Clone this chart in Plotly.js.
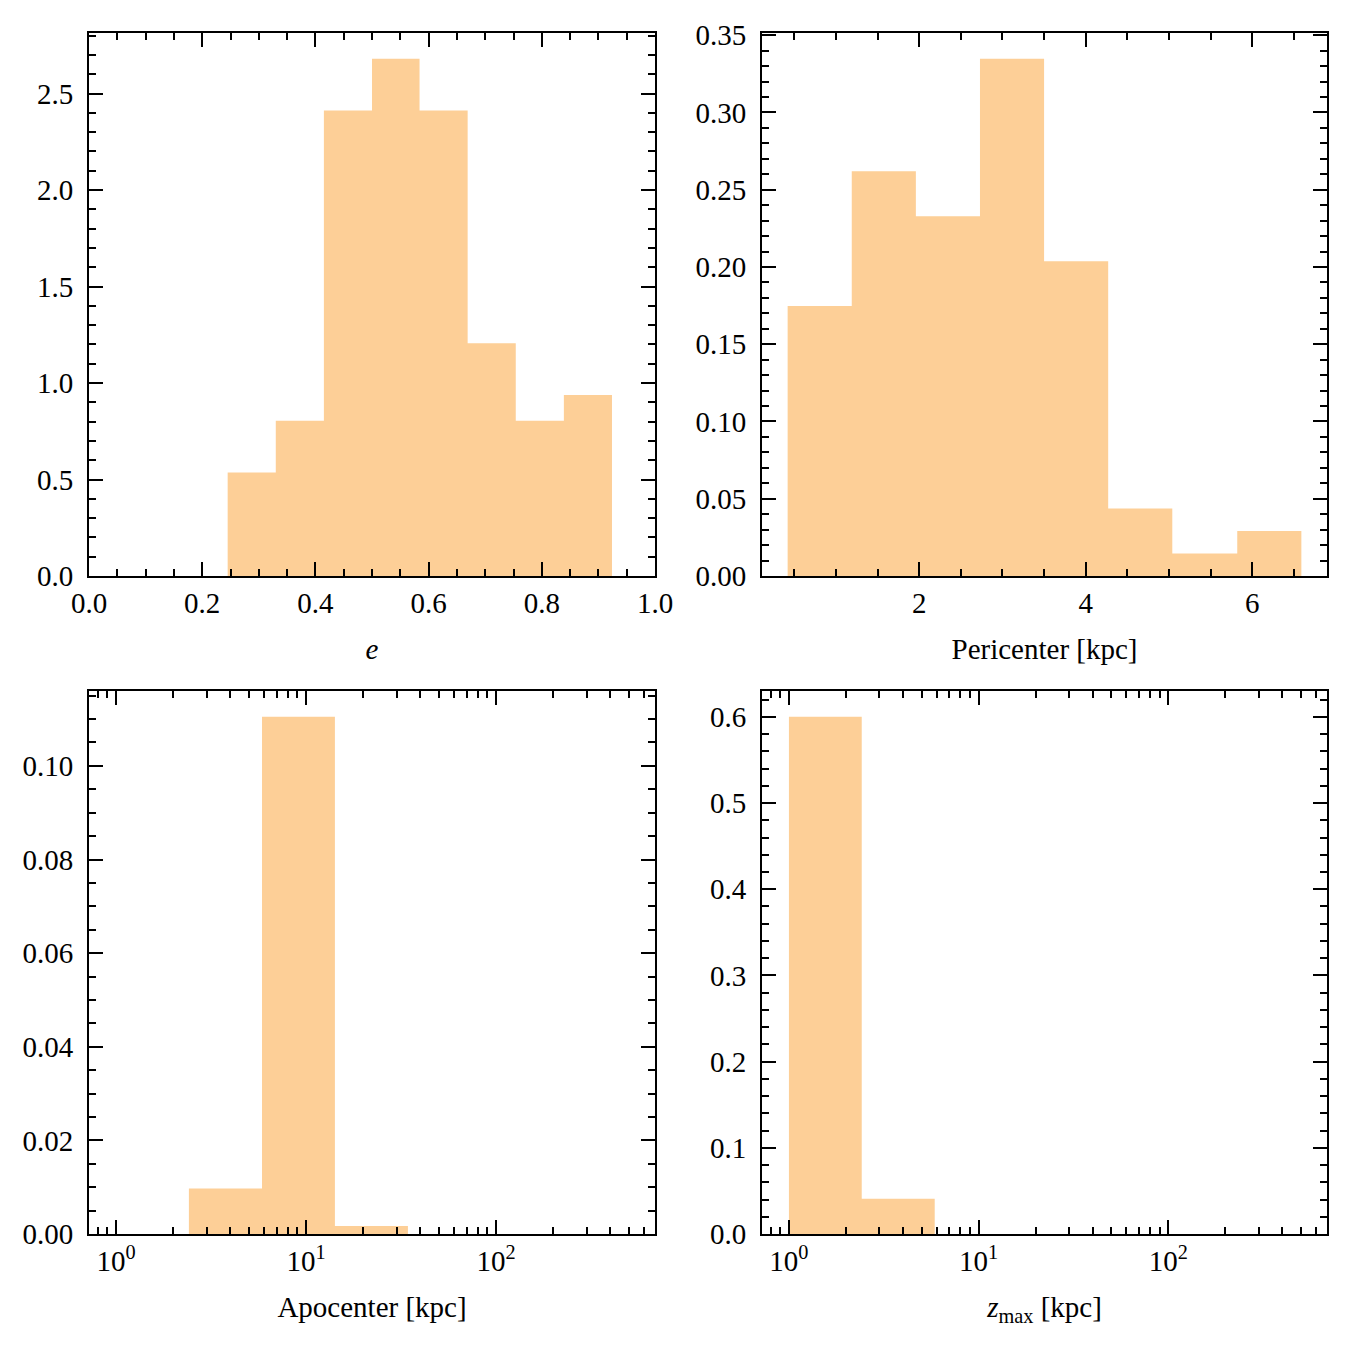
<!DOCTYPE html>
<html>
<head>
<meta charset="utf-8">
<script src="https://cdn.plot.ly/plotly-3.0.1.min.js"></script>
<style>
  html, body { margin: 0; padding: 0; background: #fff; }
  #chart { width: 1350px; height: 1350px; }
</style>
</head>
<body>
<div id="chart"></div>
<script>
// Orbital parameter distributions (normalised histograms)

// Eccentricity
const eccEdges   = [0.245, 0.330, 0.415, 0.500, 0.584, 0.669, 0.754, 0.839, 0.924];
const eccDensity = [0.536, 0.804, 2.412, 2.680, 2.412, 1.206, 0.804, 0.938];

// Pericenter [kpc]
const periEdges   = [0.42, 1.19, 1.96, 2.73, 3.50, 4.27, 5.04, 5.82, 6.59];
const periDensity = [0.1747, 0.2619, 0.2328, 0.3347, 0.2037, 0.0437, 0.0146, 0.0291];

// Apocenter [kpc] (log bins)
const apoEdges   = [2.42, 5.87, 14.2, 34.4];
const apoDensity = [0.0097, 0.1105, 0.0017];

// z_max [kpc] (log bins)
const zmaxEdges   = [1.0, 2.42, 5.87];
const zmaxDensity = [0.600, 0.041];

// Axis labels
const xTitles = ['<i>e</i>', 'Pericenter [kpc]', 'Apocenter [kpc]', '<i>z</i><sub>max</sub> [kpc]'];
const logTickVals = [1, 10, 100];
const logTickText = ['10<sup>0</sup>', '10<sup>1</sup>', '10<sup>2</sup>'];

const FILL = '#FDCF97';
const FONT = 'Liberation Serif, Times New Roman, serif';
const FS = 29;

// Step outline of a histogram, filled down to zero
function histTrace(edges, dens, xa, ya) {
  const y = dens.concat([dens[dens.length - 1]]);
  return {
    type: 'scatter', mode: 'lines',
    x: edges, y: y,
    line: { shape: 'hv', width: 0, color: FILL },
    fill: 'tozeroy', fillcolor: FILL,
    xaxis: xa, yaxis: ya, hoverinfo: 'skip', showlegend: false
  };
}

// minor tick positions for the log axes
const logMinor = [];
[0.1, 1, 10, 100].forEach(function (d) {
  for (let k = 2; k <= 9; k++) logMinor.push(k * d);
});

function baseAxis(extra) {
  return Object.assign({
    showgrid: false, zeroline: false,
    showline: true, linecolor: '#000', linewidth: 2,
    mirror: 'allticks',
    ticks: 'inside', ticklen: 14, tickwidth: 2, tickcolor: '#000',
    tickfont: { family: FONT, size: FS, color: '#000' },
    automargin: false
  }, extra);
}

const W = 1350;
const colL = [89 / W, 655 / W];
const colR = [762 / W, 1327 / W];
const rowT = [1 - 576 / W, 1 - 33 / W];
const rowB = [1 - 1234 / W, 1 - 691 / W];

function xTitle(t) {
  return { text: t, font: { family: FONT, size: FS, color: '#000' }, standoff: 21 };
}

const minorLin = function (d) {
  return { ticks: 'inside', ticklen: 7, tickwidth: 2, tickcolor: '#000', dtick: d, tick0: 0, showgrid: false };
};
const minorLog = { ticks: 'inside', ticklen: 7, tickwidth: 2, tickcolor: '#000', tickmode: 'array', tickvals: logMinor, showgrid: false };

const YSTAND = 8;

const layout = {
  width: 1350, height: 1350,
  margin: { l: 0, r: 0, t: 0, b: 0 },
  paper_bgcolor: '#fff', plot_bgcolor: '#fff',
  showlegend: false,
  xaxis: baseAxis({ domain: colL, anchor: 'y', range: [0, 1], dtick: 0.2, tick0: 0, tickformat: '.1f',
    minor: minorLin(0.05), title: xTitle(xTitles[0]) }),
  yaxis: baseAxis({ domain: rowT, anchor: 'x', range: [0, 2.814], dtick: 0.5, tick0: 0, tickformat: '.1f',
    minor: minorLin(0.1), ticklabelstandoff: YSTAND }),
  xaxis2: baseAxis({ domain: colR, anchor: 'y2', range: [0.112, 6.898], tickvals: [2, 4, 6], ticktext: ['2', '4', '6'],
    minor: minorLin(0.5), title: xTitle(xTitles[1]) }),
  yaxis2: baseAxis({ domain: rowT, anchor: 'x2', range: [0, 0.3514], dtick: 0.05, tick0: 0, tickformat: '.2f',
    minor: minorLin(0.01), ticklabelstandoff: YSTAND }),
  xaxis3: baseAxis({ domain: colL, anchor: 'y3', type: 'log', range: [-0.142, 2.837],
    tickmode: 'array', tickvals: logTickVals, ticktext: logTickText,
    minor: minorLog, title: xTitle(xTitles[2]) }),
  yaxis3: baseAxis({ domain: rowB, anchor: 'x3', range: [0, 0.116], dtick: 0.02, tick0: 0, tickformat: '.2f',
    minor: minorLin(0.005), ticklabelstandoff: YSTAND }),
  xaxis4: baseAxis({ domain: colR, anchor: 'y4', type: 'log', range: [-0.142, 2.837],
    tickmode: 'array', tickvals: logTickVals, ticktext: logTickText,
    minor: minorLog, title: xTitle(xTitles[3]) }),
  yaxis4: baseAxis({ domain: rowB, anchor: 'x4', range: [0, 0.630], dtick: 0.1, tick0: 0, tickformat: '.1f',
    minor: minorLin(0.02), ticklabelstandoff: YSTAND })
};

const data = [
  histTrace(eccEdges, eccDensity, 'x', 'y'),
  histTrace(periEdges, periDensity, 'x2', 'y2'),
  histTrace(apoEdges, apoDensity, 'x3', 'y3'),
  histTrace(zmaxEdges, zmaxDensity, 'x4', 'y4')
];

Plotly.newPlot('chart', data, layout, { staticPlot: true, displayModeBar: false });
</script>
</body>
</html>
